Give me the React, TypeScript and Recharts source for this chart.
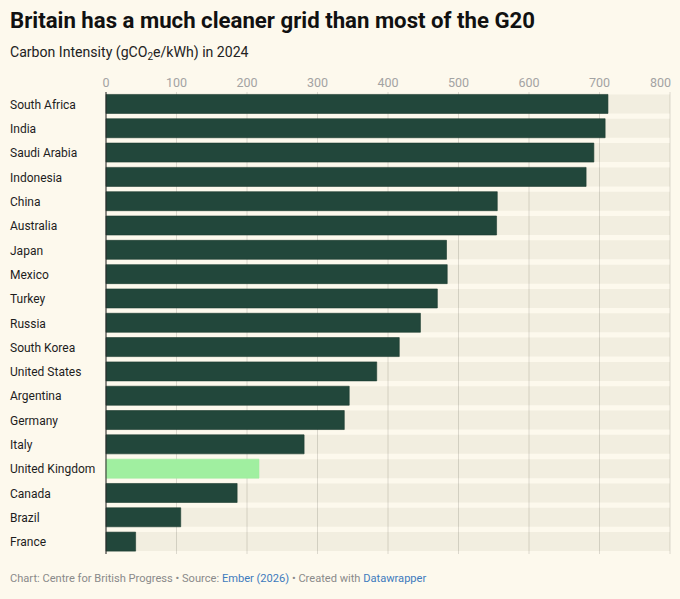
import React from "react";
import { BarChart, Bar, XAxis, YAxis, CartesianGrid, Cell } from "recharts";

const countries: string[] = [
  "South Africa",
  "India",
  "Saudi Arabia",
  "Indonesia",
  "China",
  "Australia",
  "Japan",
  "Mexico",
  "Turkey",
  "Russia",
  "South Korea",
  "United States",
  "Argentina",
  "Germany",
  "Italy",
  "United Kingdom",
  "Canada",
  "Brazil",
  "France",
];

const intensity: number[] = [
  712, 708, 692, 681, 555, 554, 483, 484, 470, 446, 416, 384, 345, 338, 281,
  217, 186, 106, 42,
];

const xTicks: number[] = [0, 100, 200, 300, 400, 500, 600, 700, 800];

const highlight = "United Kingdom";

const data = countries.map((name, i) => ({ name, value: intensity[i] }));

const FONT = "Roboto, 'Noto Sans', sans-serif";
const BG = "#fdf9ed";
const DARK = "#22473b";
const LIGHT = "#a0efa0";

const CountryTick = (props: any) => {
  const { y, payload } = props;
  return (
    <text
      x={10}
      y={y}
      dy={4.5}
      textAnchor="start"
      fontFamily={FONT}
      fontSize={12}
      fill="#1d1d1d"
    >
      {payload.value}
    </text>
  );
};

// last tick label sits flush with the right edge, like datawrapper does
const ValueTick = (props: any) => {
  const { x, y, payload } = props;
  const last = payload.value === xTicks[xTicks.length - 1];
  return (
    <text
      x={last ? x + 1 : x}
      y={y}
      textAnchor={last ? "end" : "middle"}
      fontFamily={FONT}
      fontSize={12.5}
      fill="#a3a3a3"
    >
      {payload.value}
    </text>
  );
};

export default function App() {
  return (
    <div
      style={{
        position: "absolute",
        left: 0,
        top: 0,
        width: 680,
        height: 599,
        background: BG,
        fontFamily: FONT,
        overflow: "hidden",
      }}
    >
      <div
        style={{
          position: "absolute",
          left: 10,
          top: 7,
          fontSize: 22.2,
          fontWeight: 700,
          color: "#111",
          whiteSpace: "nowrap",
        }}
      >
        Britain has a much cleaner grid than most of the G20
      </div>
      <div
        style={{
          position: "absolute",
          left: 10,
          top: 44,
          fontSize: 14.1,
          color: "#222",
          whiteSpace: "nowrap",
        }}
      >
        Carbon Intensity (gCO
        <sub style={{ fontSize: 10, verticalAlign: "-3px" }}>2</sub>
        e/kWh) in 2024
      </div>
      <div style={{ position: "absolute", left: 0, top: 60 }}>
        <BarChart
          width={680}
          height={500}
          data={data}
          layout="vertical"
          margin={{ top: 0, right: 10, bottom: 6, left: 0 }}
          barCategoryGap="10%"
        >
          <CartesianGrid
            horizontal={false}
            vertical={true}
            stroke="#dcd8cd"
            strokeWidth={1}
          />
          <XAxis
            type="number"
            orientation="top"
            domain={[0, 800]}
            ticks={xTicks}
            axisLine={false}
            tickLine={false}
            tickSize={0}
            tickMargin={5}
            height={32}
            tick={<ValueTick />}
            interval={0}
          />
          <YAxis
            type="category"
            dataKey="name"
            width={106}
            axisLine={{ stroke: "#2b2b2b", strokeWidth: 1 }}
            tickLine={false}
            tick={<CountryTick />}
            interval={0}
          />
          <Bar
            dataKey="value"
            isAnimationActive={false}
            background={{ fill: "rgba(60,50,0,0.055)", stroke: "none" }}
          >
            {data.map((d) => (
              <Cell
                key={d.name}
                fill={d.name === highlight ? LIGHT : DARK}
                stroke={d.name === highlight ? LIGHT : "#1b3a2f"}
                strokeWidth={0.6}
              />
            ))}
          </Bar>
        </BarChart>
      </div>
      <div
        style={{
          position: "absolute",
          left: 10,
          top: 572,
          fontSize: 11.1,
          color: "#8a8a8a",
          whiteSpace: "nowrap",
        }}
      >
        Chart: Centre for British Progress • Source:{" "}
        <span style={{ color: "#3d7bbd" }}>Ember (2026)</span> • Created with{" "}
        <span style={{ color: "#3d7bbd" }}>Datawrapper</span>
      </div>
    </div>
  );
}
